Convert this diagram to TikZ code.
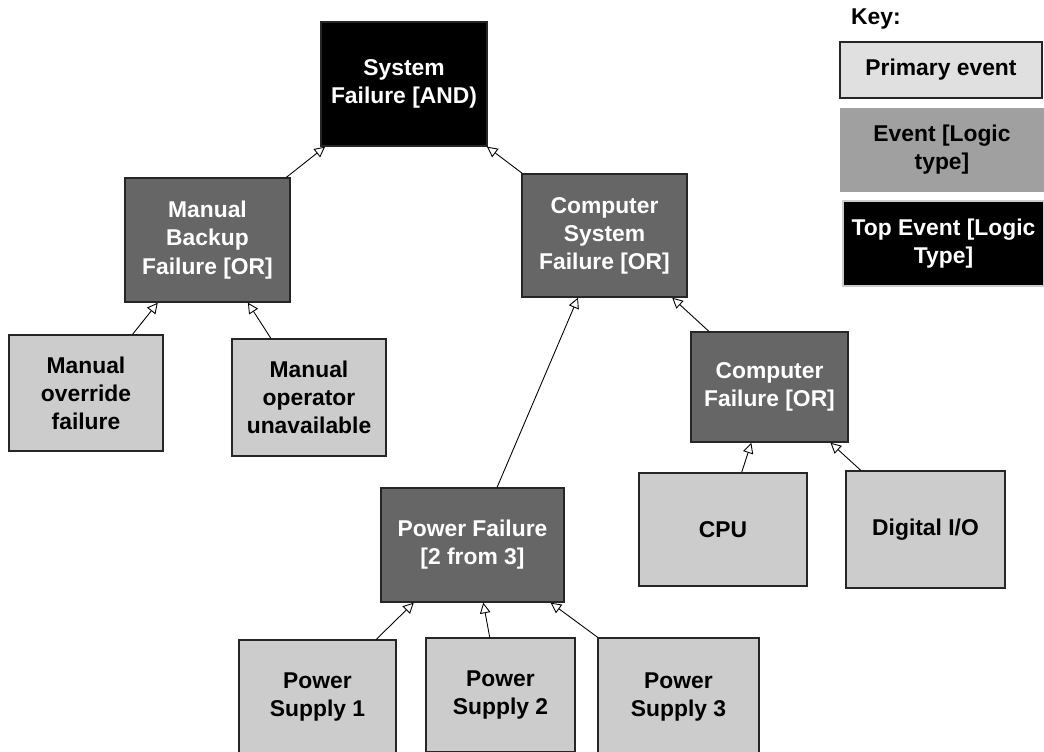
\documentclass[tikz,border=0pt]{standalone}
\usepackage{fontspec}
\setmainfont{Liberation Sans}
\usepackage{tikz}
\usetikzlibrary{arrows.meta}

\definecolor{primarygray}{HTML}{CCCCCC}
\definecolor{eventgray}{HTML}{666666}
\definecolor{keyprimarygray}{HTML}{E0E0E0}
\definecolor{keyeventgray}{HTML}{A0A0A0}

\begin{document}
\begin{tikzpicture}[x=0.02cm,y=-0.02cm,font=\fontsize{13}{16}\selectfont\bfseries]
    \tikzstyle{primary} = [rectangle, 
fill=primarygray,
text=black,
align=center,
inner sep=0pt,
line width=0.8pt,
draw=black!85]

\tikzstyle{event} = [rectangle, 
fill=eventgray,
text=white,
align=center,
inner sep=0pt,
line width=0.8pt,
draw=black!85]

\tikzstyle{topevent} = [rectangle, 
fill=black,
text=white,
align=center,
inner sep=0pt,
line width=0.8pt,
draw=black!85]
\tikzstyle{arrow} = [line width=0.5pt,-{Triangle[fill=white,length=6pt,width=6pt]}]

\clip (0,0) rectangle (1044,751);
\fill [white] (0,0) rectangle (1044,751);

\node (sysfailure) [topevent, minimum width=3.32cm, minimum height=2.48cm] at (404,84) {System\\Failure [AND)};
\node (manualbackup) [event, minimum width=3.30cm, minimum height=2.48cm] at (207.5,240) {Manual\\Backup\\Failure [OR]};
\node (computersystem) [event, minimum width=3.30cm, minimum height=2.46cm] at (604.5,235.5) {Computer\\System\\Failure [OR]};
\node (manualoverride) [primary, minimum width=3.08cm, minimum height=2.32cm] at (86,393) {Manual\\override\\failure};
\node (manualoperator) [primary, minimum width=3.08cm, minimum height=2.34cm] at (309,397.5) {Manual\\operator\\unavailable};
\node (computerfailure) [event, minimum width=3.14cm, minimum height=2.20cm] at (769.5,387) {Computer\\Failure [OR]};
\node (powerfailure) [event, minimum width=3.66cm, minimum height=2.28cm] at (472.5,545) {Power Failure\\{}[2 from 3]};
\node (cpu) [primary, minimum width=3.36cm, minimum height=2.26cm] at (723,529.5) {CPU};
\node (digitalio) [primary, minimum width=3.18cm, minimum height=2.34cm] at (925.5,529.5) {Digital I/O};
\node (supply1) [primary, minimum width=3.14cm, minimum height=2.28cm] at (317.5,697) {Power\\Supply 1};
\node (supply2) [primary, minimum width=2.98cm, minimum height=2.28cm] at (500.5,695) {Power\\Supply 2};
\node (supply3) [primary, minimum width=3.22cm, minimum height=2.36cm] at (678.5,697) {Power\\Supply 3};

% key
\node (key) [anchor=west] at (845,19) {Key:};
\node (keyprimary) [primary, fill=keyprimarygray, minimum width=4.04cm, minimum height=1.12cm] at (941,70) {Primary event};
\node (keyevent) [event, fill=keyeventgray, text=black, draw=none, minimum width=4.08cm, minimum height=1.68cm] at (942,150) {Event [Logic\\type]};
\node (keytop) [topevent, draw=black!20, minimum width=4.02cm, minimum height=1.70cm] at (943.5,243.5) {Top Event [Logic\\Type]};

\draw [arrow] (manualbackup) -- (sysfailure);
\draw [arrow] (computersystem) -- (sysfailure);
\draw [arrow] (manualoverride) -- (manualbackup);
\draw [arrow] (manualoperator) -- (manualbackup);
\draw [arrow] (powerfailure) -- (computersystem);
\draw [arrow] (computerfailure) -- (computersystem);
\draw [arrow] (cpu) -- (computerfailure);
\draw [arrow] (digitalio) -- (computerfailure);
\draw [arrow] (supply1) -- (powerfailure);
\draw [arrow] (supply2) -- (powerfailure);
\draw [arrow] (supply3) -- (powerfailure);

\end{tikzpicture}
\end{document}
